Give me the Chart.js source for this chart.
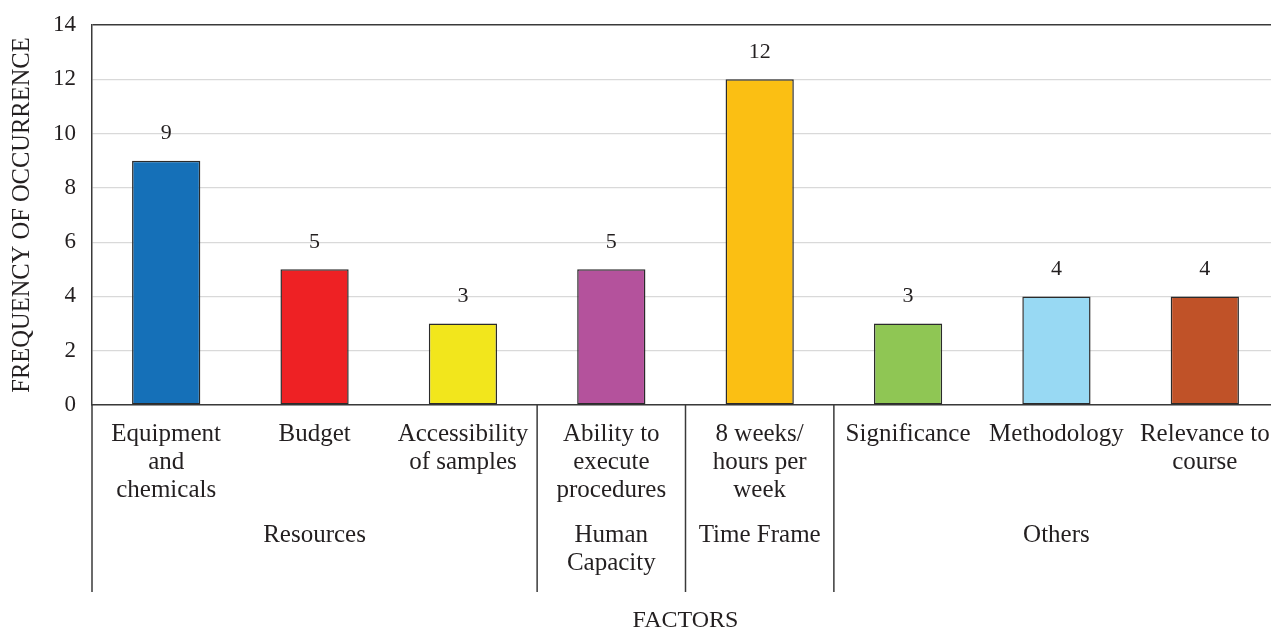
<!DOCTYPE html>
<html>
<head>
<meta charset="utf-8">
<script src="https://cdn.jsdelivr.net/npm/chart.js@4/dist/chart.umd.min.js"></script>
<style>
  html, body { margin: 0; padding: 0; background: #ffffff; overflow: hidden; }
  #wrap { width: 1280px; height: 630px; }
</style>
</head>
<body>
<div id="wrap"><canvas id="c" width="1280" height="630"></canvas></div>
<script>
// Factors and how often each occurred
const categories = [
  ['Equipment', 'and', 'chemicals'],
  ['Budget'],
  ['Accessibility', 'of samples'],
  ['Ability to', 'execute', 'procedures'],
  ['8 weeks/', 'hours per', 'week'],
  ['Significance'],
  ['Methodology'],
  ['Relevance to', 'course']
];
const frequencies = [9, 5, 3, 5, 12, 3, 4, 4];
const barColors = ['#1570b8', '#ee2124', '#f2e61c', '#b4529c', '#fbbf13', '#8fc654', '#98d9f3', '#c05228'];

// Factor groups shown beneath the category labels
const groupNames = [['Resources'], ['Human', 'Capacity'], ['Time Frame'], ['Others']];
const groupSpans = [3, 1, 1, 3];

const yTicks = [0, 2, 4, 6, 8, 10, 12, 14];

const SERIF = '"Liberation Serif", "Times New Roman", serif';
const INK = '#231f20';
const AXIS = '#3a3a3a';

// Bar value labels
const valueLabels = {
  id: 'valueLabels',
  afterDatasetsDraw(chart) {
    const ctx = chart.ctx;
    const meta = chart.getDatasetMeta(0);
    ctx.save();
    ctx.font = '22px ' + SERIF;
    ctx.fillStyle = INK;
    ctx.textAlign = 'center';
    ctx.textBaseline = 'middle';
    meta.data.forEach((bar, i) => {
      ctx.fillText(String(frequencies[i]), bar.x, bar.y - 27);
    });
    ctx.restore();
  }
};

// Group separators and group names under the x axis
const groupAxis = {
  id: 'groupAxis',
  afterDraw(chart) {
    const ctx = chart.ctx;
    const x = chart.scales.x;
    const area = chart.chartArea;
    const lineBottom = 592;
    const step = x.getPixelForValue(1) - x.getPixelForValue(0);
    const edge = (i) => x.getPixelForValue(i) - step / 2;

    ctx.save();
    ctx.strokeStyle = AXIS;
    ctx.lineWidth = 1.5;
    // left axis continues down beside the labels
    ctx.beginPath();
    ctx.moveTo(area.left, area.bottom);
    ctx.lineTo(area.left, lineBottom);
    ctx.stroke();

    let start = 0;
    ctx.font = '25px ' + SERIF;
    ctx.fillStyle = INK;
    ctx.textAlign = 'center';
    ctx.textBaseline = 'middle';
    groupSpans.forEach((span, g) => {
      const end = start + span;
      if (end < categories.length) {
        const bx = edge(end);
        ctx.beginPath();
        ctx.moveTo(bx, area.bottom);
        ctx.lineTo(bx, lineBottom);
        ctx.stroke();
      }
      const cx = (edge(start) + edge(end)) / 2;
      groupNames[g].forEach((line, k) => {
        ctx.fillText(line, cx, 535 + k * 28);
      });
      start = end;
    });
    ctx.restore();
  }
};

new Chart(document.getElementById('c'), {
  type: 'bar',
  data: {
    labels: categories,
    datasets: [{
      data: frequencies,
      backgroundColor: barColors,
      borderColor: '#2b2b2b',
      borderWidth: 1.5,
      borderSkipped: false,
      categoryPercentage: 1,
      barPercentage: 0.46
    }]
  },
  options: {
    responsive: false,
    devicePixelRatio: 1,
    animation: false,
    layout: { padding: { top: 25, right: 1, bottom: 0, left: 0 } },
    plugins: {
      legend: { display: false },
      tooltip: { enabled: false }
    },
    scales: {
      x: {
        grid: { display: false, drawTicks: false },
        border: { display: true, color: AXIS, width: 1.5 },
        ticks: {
          color: INK,
          font: { family: SERIF, size: 25, lineHeight: '28px' },
          padding: 15,
          maxRotation: 0,
          autoSkip: false
        },
        title: {
          display: true,
          text: 'FACTORS',
          color: INK,
          font: { family: SERIF, size: 24, lineHeight: '18px' },
          padding: 0
        },
        afterFit(scale) {
          scale.height = 225;
          scale.paddingLeft = 0;
          scale.paddingRight = 0;
        }
      },
      y: {
        min: 0,
        max: 14,
        afterBuildTicks(scale) { scale.ticks = yTicks.map(v => ({ value: v })); },
        grid: {
          drawTicks: false,
          color: (c) => (c.tick && c.tick.value === 14) ? AXIS : '#d9d9d9',
          lineWidth: (c) => (c.tick && c.tick.value === 14) ? 1.5 : 1.2
        },
        border: { display: true, color: AXIS, width: 1.5 },
        ticks: {
          color: INK,
          font: { family: SERIF, size: 23 },
          padding: 16
        },
        title: {
          display: true,
          text: 'FREQUENCY OF OCCURRENCE',
          color: INK,
          font: { family: SERIF, size: 24.5 },
          padding: { top: 8, bottom: 8 }
        },
        afterFit(scale) {
          scale.width = 92;
          scale.paddingTop = 0;
          scale.paddingBottom = 0;
        }
      }
    }
  },
  plugins: [valueLabels, groupAxis]
});
</script>
</body>
</html>
